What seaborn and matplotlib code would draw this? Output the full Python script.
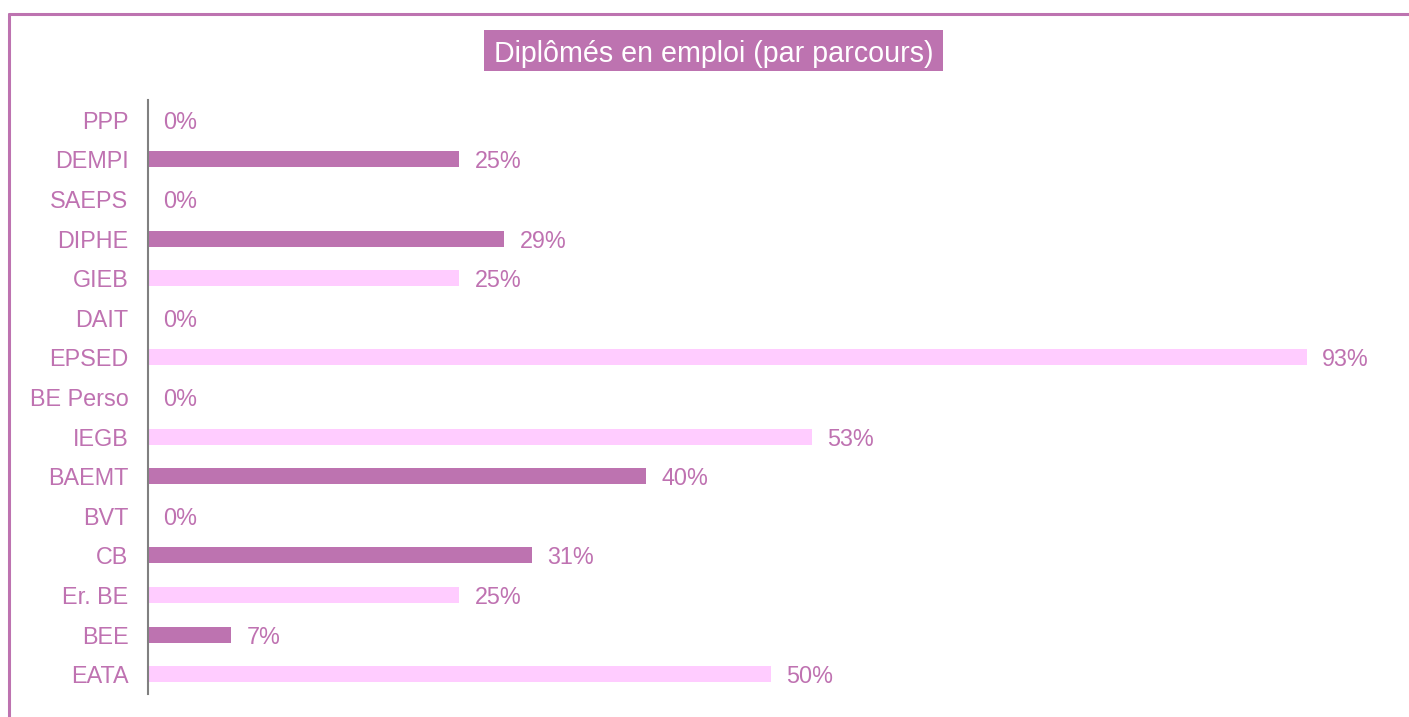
import matplotlib
matplotlib.use('Agg')
import matplotlib.pyplot as plt
from matplotlib.lines import Line2D
from matplotlib.patches import Rectangle
import pandas as pd
import seaborn as sns

parcours = ['PPP', 'DEMPI', 'SAEPS', 'DIPHE', 'GIEB', 'DAIT', 'EPSED', 'BE Perso',
            'IEGB', 'BAEMT', 'BVT', 'CB', 'Er. BE', 'BEE', 'EATA']
taux_emploi = [0, 25, 0, 28.6, 25, 0, 93, 0, 53.3, 40, 0, 30.8, 25, 6.7, 50]
groupe = ['A', 'A', 'A', 'A', 'B', 'B', 'B', 'B', 'B', 'A', 'A', 'A', 'B', 'A', 'B']
titre = 'Diplômés en emploi (par parcours)'

violet = '#BD73B0'
rose = '#FFCCFF'
texte = '#BF72B1'

df = pd.DataFrame({'parcours': parcours, 'taux': taux_emploi, 'groupe': groupe})

sns.set_style('white')
plt.rcParams['font.family'] = ['Liberation Sans', 'DejaVu Sans']

fig = plt.figure(figsize=(14.09, 7.17), dpi=100)
ax = fig.add_axes([0.105, 0.0321, 0.8844, 0.8284])

sns.barplot(data=df, x='taux', y='parcours', hue='groupe', order=parcours,
            palette={'A': violet, 'B': rose}, width=0.4, dodge=False,
            saturation=1, linewidth=0, legend=False, ax=ax)

for c in ax.containers:
    for t in ax.bar_label(c, fmt='%.0f%%', padding=11, color=texte, fontsize=16.8):
        t.set_verticalalignment('center_baseline')

ax.set_xlim(0, 100)
ax.set_ylim(len(parcours) - 0.5, -0.5)
ax.set_xlabel('')
ax.set_ylabel('')
ax.set_xticks([])
ax.tick_params(axis='y', length=0, pad=14, labelsize=16.8, labelcolor=texte)
for lab in ax.get_yticklabels():
    lab.set_verticalalignment('center_baseline')
for s in ['top', 'right', 'bottom']:
    ax.spines[s].set_visible(False)
ax.spines['left'].set_color('#808080')
ax.spines['left'].set_linewidth(1.5)

# cadre
W, H = 1409, 717
fig.add_artist(Line2D([9 / W, 9 / W], [0, 1 - 14 / H], color=violet, lw=2.2))
fig.add_artist(Line2D([9 / W, 1], [1 - 14 / H, 1 - 14 / H], color=violet, lw=2.2))

# titre
fig.add_artist(Rectangle((484 / W, 1 - 71 / H), 459 / W, 41 / H,
                         facecolor=violet, edgecolor='none', transform=fig.transFigure))
fig.text(714 / W, 1 - 51 / H, titre, color='white', fontsize=20.6,
         ha='center', va='center_baseline')

fig.savefig('out.png', dpi=100)
